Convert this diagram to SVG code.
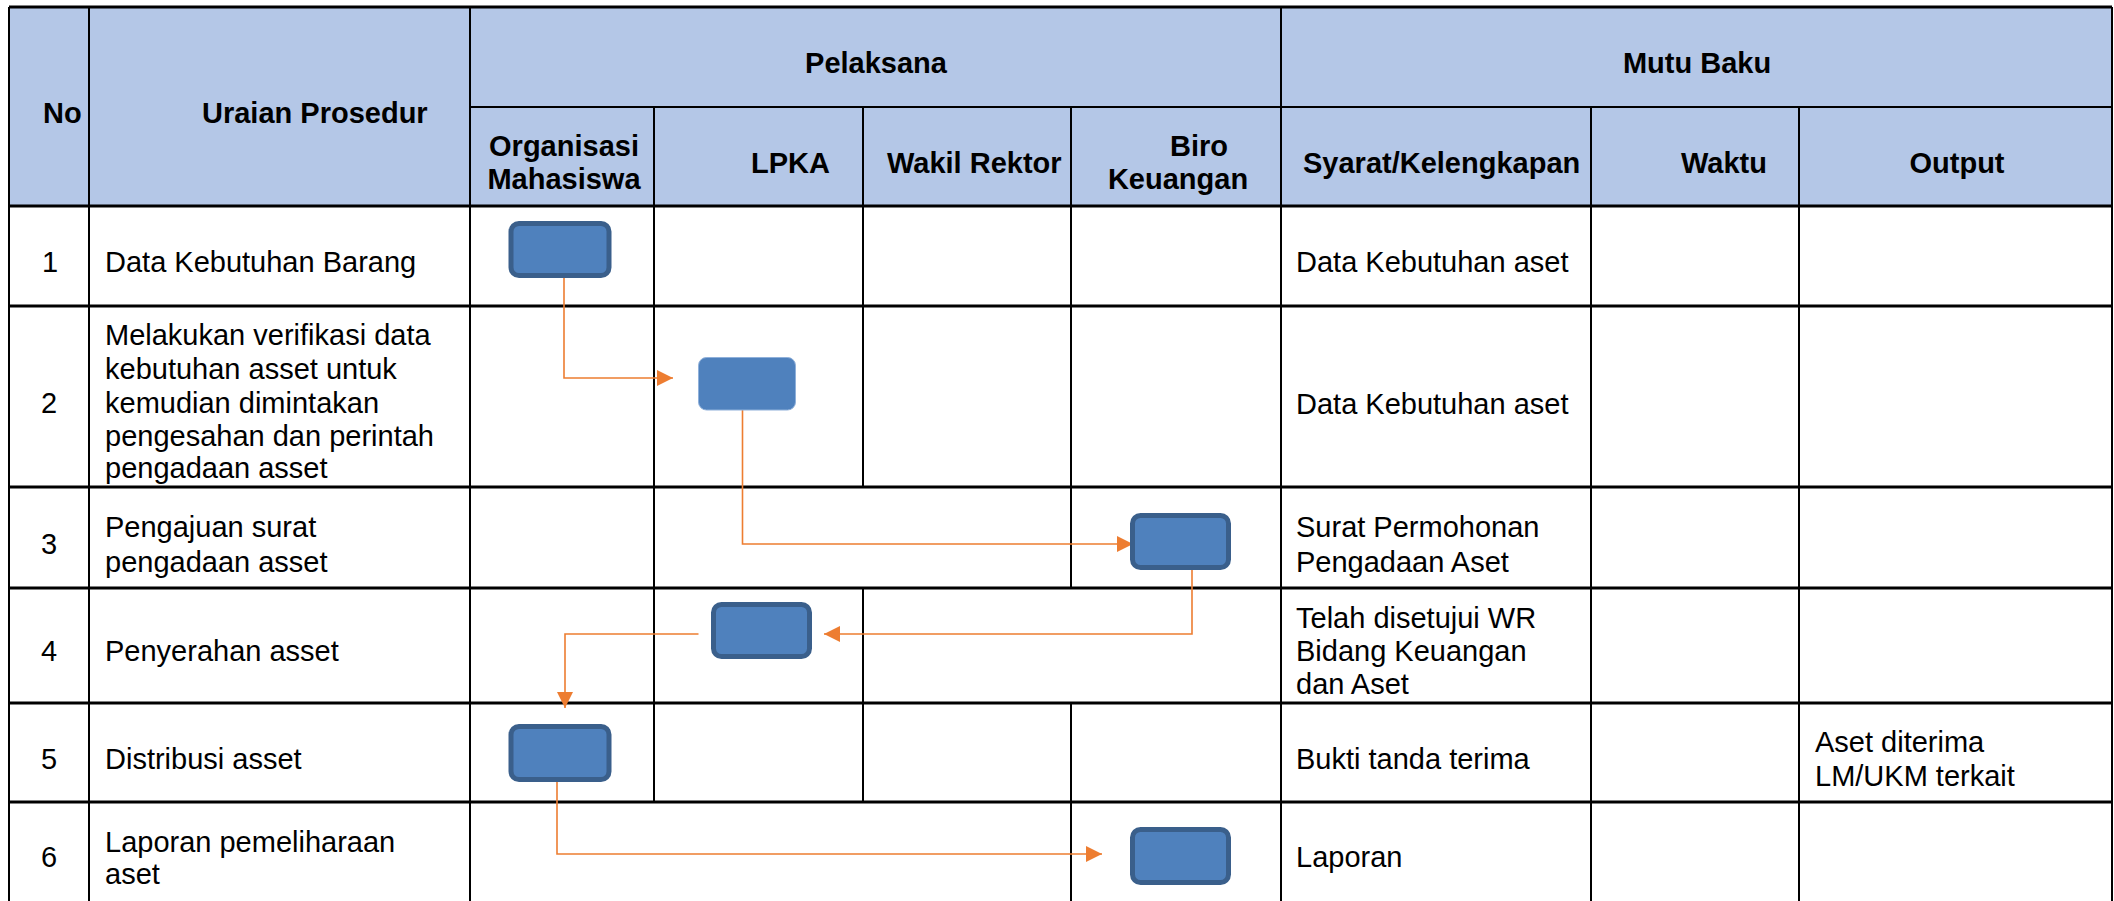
<svg xmlns="http://www.w3.org/2000/svg" width="2114" height="901" viewBox="0 0 2114 901">
<style>
  .t { font-family: "Liberation Sans", Arial, sans-serif; font-size: 29px; fill: #000; }
  .b { font-weight: bold; }
  .m { text-anchor: middle; }
  .h { stroke: #000; stroke-width: 3; fill: none; }
  .v { stroke: #000; stroke-width: 2; fill: none; }
  .node { fill: #4f81bd; stroke: #3a5f8b; stroke-width: 5; }
  .node2 { fill: #4f81bd; stroke: #8fb0da; stroke-width: 1; }
  .conn { fill: none; stroke: #ed7d31; stroke-width: 1.6; }
</style>
<defs>
  <marker id="ah" markerUnits="userSpaceOnUse" markerWidth="16" markerHeight="16" refX="16" refY="8" orient="auto" viewBox="0 0 16 16">
    <path d="M0,0 L16,8 L0,16 z" fill="#ed7d31"/>
  </marker>
</defs>
<rect x="0" y="0" width="2114" height="901" fill="#fff"/>

<g id="table">
  <rect x="9" y="7" width="2103" height="199" fill="#b4c7e7"/>
  <!-- horizontal lines -->
  <line class="h" x1="9" y1="7" x2="2112" y2="7"/>
  <line class="v" x1="470" y1="107" x2="2112" y2="107"/>
  <line class="h" x1="9" y1="206" x2="2112" y2="206"/>
  <line class="h" x1="9" y1="306" x2="2112" y2="306"/>
  <line class="h" x1="9" y1="487" x2="2112" y2="487"/>
  <line class="h" x1="9" y1="588" x2="2112" y2="588"/>
  <line class="h" x1="9" y1="703" x2="2112" y2="703"/>
  <line class="h" x1="9" y1="802" x2="2112" y2="802"/>
  <!-- vertical lines -->
  <line class="v" x1="9" y1="7" x2="9" y2="901"/>
  <line class="v" x1="89" y1="7" x2="89" y2="901"/>
  <line class="v" x1="470" y1="7" x2="470" y2="901"/>
  <line class="v" x1="654" y1="107" x2="654" y2="802"/>
  <line class="v" x1="863" y1="107" x2="863" y2="487"/>
  <line class="v" x1="863" y1="588" x2="863" y2="802"/>
  <line class="v" x1="1071" y1="107" x2="1071" y2="588"/>
  <line class="v" x1="1071" y1="703" x2="1071" y2="901"/>
  <line class="v" x1="1281" y1="7" x2="1281" y2="901"/>
  <line class="v" x1="1591" y1="107" x2="1591" y2="901"/>
  <line class="v" x1="1799" y1="107" x2="1799" y2="901"/>
  <line class="v" x1="2112" y1="7" x2="2112" y2="901"/>
</g>

<g id="header">
  <text class="t b" x="43" y="123">No</text>
  <text class="t b" x="202" y="123">Uraian Prosedur</text>
  <text class="t b m" x="876" y="73">Pelaksana</text>
  <text class="t b m" x="1697" y="73">Mutu Baku</text>
  <text class="t b m" x="564" y="156">Organisasi</text>
  <text class="t b m" x="564" y="189">Mahasiswa</text>
  <text class="t b" x="751" y="173">LPKA</text>
  <text class="t b" x="887" y="173">Wakil Rektor</text>
  <text class="t b" x="1170" y="156">Biro</text>
  <text class="t b m" x="1178" y="189">Keuangan</text>
  <text class="t b" x="1303" y="173">Syarat/Kelengkapan</text>
  <text class="t b" x="1681" y="173">Waktu</text>
  <text class="t b m" x="1957" y="173">Output</text>
</g>

<g id="rows">
  <text class="t" x="42" y="272">1</text>
  <text class="t" x="105" y="272">Data Kebutuhan Barang</text>
  <text class="t" x="1296" y="272">Data Kebutuhan aset</text>

  <text class="t" x="41" y="413">2</text>
  <text class="t" x="105" y="345">Melakukan verifikasi data</text>
  <text class="t" x="105" y="379">kebutuhan asset untuk</text>
  <text class="t" x="105" y="413">kemudian dimintakan</text>
  <text class="t" x="105" y="446">pengesahan dan perintah</text>
  <text class="t" x="105" y="478">pengadaan asset</text>
  <text class="t" x="1296" y="414">Data Kebutuhan aset</text>

  <text class="t" x="41" y="554">3</text>
  <text class="t" x="105" y="537">Pengajuan surat</text>
  <text class="t" x="105" y="572">pengadaan asset</text>
  <text class="t" x="1296" y="537">Surat Permohonan</text>
  <text class="t" x="1296" y="572">Pengadaan Aset</text>

  <text class="t" x="41" y="661">4</text>
  <text class="t" x="105" y="661">Penyerahan asset</text>
  <text class="t" x="1296" y="628">Telah disetujui WR</text>
  <text class="t" x="1296" y="661">Bidang Keuangan</text>
  <text class="t" x="1296" y="694">dan Aset</text>

  <text class="t" x="41" y="769">5</text>
  <text class="t" x="105" y="769">Distribusi asset</text>
  <text class="t" x="1296" y="769">Bukti tanda terima</text>
  <text class="t" x="1815" y="752">Aset diterima</text>
  <text class="t" x="1815" y="786">LM/UKM terkait</text>

  <text class="t" x="41" y="867">6</text>
  <text class="t" x="105" y="852">Laporan pemeliharaan</text>
  <text class="t" x="105" y="884">aset</text>
  <text class="t" x="1296" y="867">Laporan</text>
</g>

<g id="connectors">
  <path class="conn" d="M564,277 V378 H673" marker-end="url(#ah)"/>
  <path class="conn" d="M742.5,410 V544 H1133" marker-end="url(#ah)"/>
  <path class="conn" d="M1171,567 H1192 V634 H824" marker-end="url(#ah)"/>
  <path class="conn" d="M698.5,634 H565 V708" marker-end="url(#ah)"/>
  <path class="conn" d="M557,780 V854 H1102" marker-end="url(#ah)"/>
</g>

<g id="node1"><rect class="node" x="511" y="223.5" width="98" height="52" rx="8"/></g>
<g id="node2"><rect class="node2" x="698.5" y="357.5" width="97" height="52.5" rx="8"/></g>
<g id="node3"><rect class="node" x="1132.5" y="515.5" width="96" height="52" rx="8"/></g>
<g id="node4"><rect class="node" x="713.5" y="604.5" width="96" height="52" rx="8"/></g>
<g id="node5"><rect class="node" x="511" y="726.5" width="98" height="53" rx="8"/></g>
<g id="node6"><rect class="node" x="1132.5" y="829.5" width="96" height="53" rx="8"/></g>
</svg>
